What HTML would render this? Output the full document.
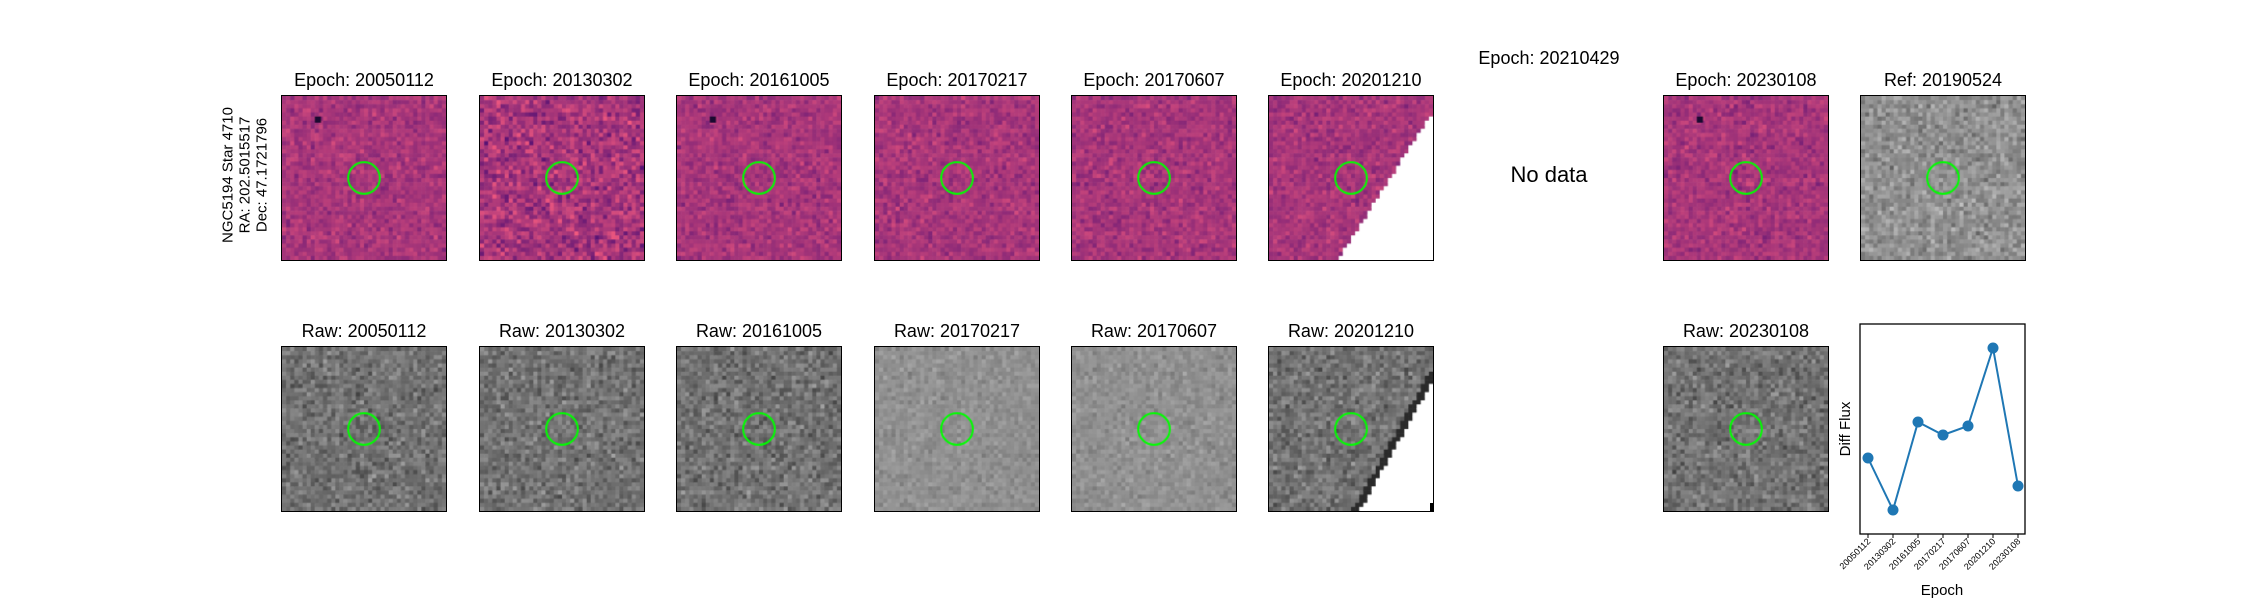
<!DOCTYPE html>
<html><head><meta charset="utf-8">
<style>
body{margin:0;background:#fff;width:2250px;height:600px;position:relative;overflow:hidden;font-family:"Liberation Sans","DejaVu Sans",sans-serif}
.t{position:absolute;font-size:18px;color:#000;text-align:center;width:240px;white-space:nowrap}
canvas{position:absolute;border:1.5px solid #000;box-sizing:border-box}
</style></head><body>
<div id="fig"></div>
<div style="position:absolute;left:245px;top:175px;transform:translate(-50%,-50%) rotate(-90deg);font-size:15px;text-align:center;line-height:17px;white-space:nowrap">NGC5194 Star 4710<br>RA: 202.5015517<br>Dec: 47.1721796</div>
<div class="t" style="left:1429px;top:48px">Epoch: 20210429</div>
<div style="position:absolute;left:1449px;top:162px;width:200px;text-align:center;font-size:22px">No data</div>
<svg id="chart" width="2250" height="600" style="position:absolute;left:0;top:0"></svg>
<script>
const epochs=["20050112","20130302","20161005","20170217","20170607","20201210","20230108"];
const flux=[76,24,112,99,108,186,48];
const yDomain=[0,210];

const topX=[281,479,676,874,1071,1268,null,1663,1860];
const topTitles=["Epoch: 20050112","Epoch: 20130302","Epoch: 20161005","Epoch: 20170217","Epoch: 20170607","Epoch: 20201210",null,"Epoch: 20230108","Ref: 20190524"];
const botTitles=["Raw: 20050112","Raw: 20130302","Raw: 20161005","Raw: 20170217","Raw: 20170607","Raw: 20201210",null,"Raw: 20230108"];
let seed=7;function rnd(){seed=(seed*16807)%2147483647;return seed/2147483647;}
function noise(){return (rnd()+rnd()+rnd()-1.5);}
const fig=document.getElementById('fig');
function panel(x,y,title,kind,idx,cut){
  const t=document.createElement('div');t.className='t';
  
  
  t.style.left=(x+83-120)+'px';t.style.top=(y-25)+'px';t.textContent=title;fig.appendChild(t);
  const c=document.createElement('canvas');
  
  
  c.width=166;c.height=166;c.style.left=x+'px';c.style.top=y+'px';c.style.width='166px';c.style.height='166px';
  fig.appendChild(c);const g=c.getContext('2d');
  const N=40,s=166/N;
  const amp=kind==='m'?(idx==1?0.22:0.13):(idx==3||idx==4?0.09:0.17);
  const base=kind==='r'&&(idx==3||idx==4||idx==8)?145:115;
  const j0=kind==='m'?4:5, sl=kind==='m'?0.64:0.56;
  for(let i=0;i<N;i++)for(let j=0;j<N;j++){
    let v=noise()*amp;
    if(cut&&j>=j0&&i>(N-1)-(j-j0)*sl){
      const d=i-((N-1)-(j-j0)*sl);
      if(kind==='m'){g.fillStyle='#fff';}
      else{ g.fillStyle=d<2?'#2a2a2a':'#fff';}
      g.fillRect(i*s,j*s,s+0.6,s+0.6);continue;}
    if(kind==='m'){
      const r=Math.max(0,Math.min(255,168+v*260)),gg=Math.max(0,Math.min(255,55+v*120)),b=Math.max(0,Math.min(255,122+v*20));
      g.fillStyle=`rgb(${r|0},${gg|0},${b|0})`;
    }else{
      const l=Math.max(0,Math.min(255,base+v*200));g.fillStyle=`rgb(${l|0},${l|0},${l|0})`;
    }
    g.fillRect(i*s,j*s,s+0.6,s+0.6);
  }
  if(kind==='m'&&(idx==0||idx==2||idx==7)){g.fillStyle='#1a0a30';g.fillRect(8*s,5*s,s*1.5,s*1.5);}
  g.strokeStyle='#00ff00';g.lineWidth=2;g.beginPath();g.arc(83,83,16,0,Math.PI*2);g.stroke();
}
topX.forEach((x,i)=>{if(x===null)return;panel(x,95,topTitles[i],i==8?'r':'m',i,i==5);});
topX.forEach((x,i)=>{if(x===null||i==8)return;panel(x,346,botTitles[i],'r',i,i==5);});
const mk=document.createElement('div');
mk.style.cssText='position:absolute;left:1430px;top:503px;width:3px;height:8px;background:#000';fig.appendChild(mk);

const NS='http://www.w3.org/2000/svg';const svg=document.getElementById('chart');
const L=1860,R=2025,T=324,B=534;
function xs(i){return 1868+i*(2018-1868)/(epochs.length-1);}
function ys(v){return B-(v-yDomain[0])/(yDomain[1]-yDomain[0])*(B-T);}
function el(tag,attrs){const e=document.createElementNS(NS,tag);for(const k in attrs)e.setAttribute(k,attrs[k]);svg.appendChild(e);return e;}
const ax=el('rect',{x:L,y:T,width:R-L,height:B-T,fill:'none',stroke:'#000','stroke-width':1.3});


const line=el('polyline',{points:flux.map((v,i)=>xs(i)+','+ys(v)).join(' '),fill:'none',stroke:'#1f77b4','stroke-width':2});


flux.forEach((v,i)=>{
  const p=el('circle',{cx:xs(i),cy:ys(v),r:5.5,fill:'#1f77b4'});
  
  
  const tk=el('line',{x1:xs(i),x2:xs(i),y1:B,y2:B+4,stroke:'#000','stroke-width':1});
  
  
  const ax0=xs(i)+3, ay0=B+8;
  const tl=el('text',{x:ax0,y:ay0,'font-size':9,'text-anchor':'end','font-family':'Liberation Sans, sans-serif',transform:`rotate(-45 ${ax0} ${ay0})`});
  tl.textContent=epochs[i];
  
  
});
const yl=el('text',{x:1850,y:429,'font-size':15,'text-anchor':'middle','font-family':'Liberation Sans, sans-serif',transform:'rotate(-90 1850 429)'});
yl.textContent='Diff Flux';


const xl=el('text',{x:1942,y:595,'font-size':15,'text-anchor':'middle','font-family':'Liberation Sans, sans-serif'});
xl.textContent='Epoch';


</script>
</body></html>
